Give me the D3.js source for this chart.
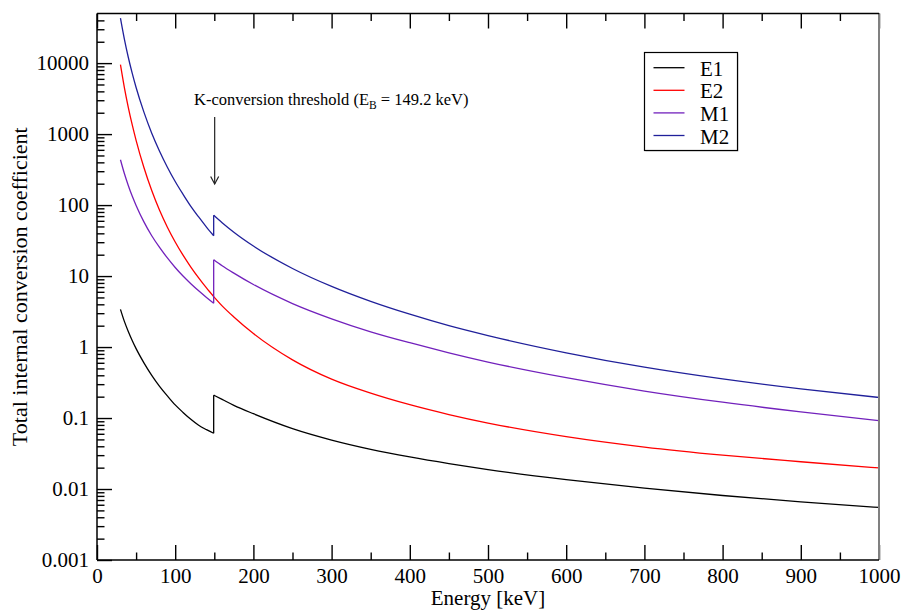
<!DOCTYPE html>
<html>
<head>
<meta charset="utf-8">
<script src="https://cdn.jsdelivr.net/npm/d3@7"></script>
<style>
  html, body { margin: 0; padding: 0; background: #fff; }
  svg { display: block; font-family: "Liberation Serif", "DejaVu Serif", serif; }
</style>
</head>
<body>
<svg id="chart" width="902" height="610"></svg>
<script>
// Total internal conversion coefficients vs. transition energy (keV).
// The K-shell channel opens at the binding energy, so each curve is drawn
// in two pieces: below and above the threshold.
const kEdge = 149.2;

const energyBelow = [30, 35, 40, 45, 50, 60, 70, 80, 90, 100, 110, 120, 130, 140, 149.2];
const energyAbove = [149.2, 160, 175, 200, 250, 300, 350, 400, 450, 500, 600, 700, 800, 900, 1000];

const e1Below = [3.4, 2.3, 1.66, 1.24, 0.95, 0.60, 0.40, 0.28, 0.205, 0.153, 0.120, 0.096, 0.079, 0.0685, 0.061];
const e1Above = [0.21, 0.183, 0.151, 0.115, 0.071, 0.049, 0.0363, 0.0283, 0.0228, 0.0188, 0.0136, 0.0103, 0.0081, 0.0066, 0.0055];

const e2Below = [9500, 4532, 2388, 1357, 818, 338, 160, 84.3, 48.8, 30.2, 19.7, 13.4, 9.43, 6.80, 5.14];
const e2Above = [5.14, 3.8, 2.65, 1.55, 0.66, 0.353, 0.224, 0.154, 0.112, 0.085, 0.0547, 0.039, 0.030, 0.0242, 0.0198];

const m1Below = [435, 278, 189, 134, 99, 58, 37, 25.3, 18, 13.2, 10.0, 7.8, 6.2, 5.0, 4.15];
const m1Above = [17, 14.0, 11.0, 7.6, 4.1, 2.5, 1.64, 1.15, 0.83, 0.615, 0.37, 0.24, 0.167, 0.122, 0.092];

const m2Below = [43000, 21800, 12100, 7230, 4540, 2040, 1030, 574, 342, 215, 142, 96, 68, 49, 37];
const m2Above = [72, 56.5, 41.5, 26.5, 12.8, 7.15, 4.4, 2.9, 2.0, 1.45, 0.83, 0.52, 0.355, 0.257, 0.195];

const seriesNames = ["E1", "E2", "M1", "M2"];
const seriesColors = ["#000000", "#ff0000", "#7221bc", "#20209a"];
const seriesBelow = [e1Below, e2Below, m1Below, m2Below];
const seriesAbove = [e1Above, e2Above, m1Above, m2Above];

const xMajorTicks = [0, 100, 200, 300, 400, 500, 600, 700, 800, 900, 1000];
const xMinorTicks = [50, 150, 250, 350, 450, 550, 650, 750, 850, 950];
const yMajorTicks = [0.001, 0.01, 0.1, 1, 10, 100, 1000, 10000];
const yTickLabels = ["0.001", "0.01", "0.1", "1", "10", "100", "1000", "10000"];

const plot = { left: 97, right: 879, top: 13.5, bottom: 560 };

const svg = d3.select("#chart");

const x = d3.scaleLinear().domain([0, 1000]).range([plot.left, plot.right]);
const y = d3.scaleLog().domain([0.001, 50000]).range([plot.bottom, plot.top]);

// minor log ticks: 2..9 times each decade, inside the domain
const yMinorTicks = [];
for (let p = -3; p <= 4; p++) {
  for (let m = 2; m <= 9; m++) {
    const v = m * Math.pow(10, p);
    if (v < 50000) yMinorTicks.push(v);
  }
}

// curves
const line = d3.line()
  .x(d => x(d[0]))
  .y(d => y(d[1]))
  .curve(d3.curveMonotoneX);

const curves = svg.append("g").attr("fill", "none").attr("stroke-width", 1.3);
seriesNames.forEach((name, i) => {
  const below = energyBelow.map((e, j) => [e, seriesBelow[i][j]]);
  const above = energyAbove.map((e, j) => [e, seriesAbove[i][j]]);
  curves.append("path").attr("d", line(below)).attr("stroke", seriesColors[i]);
  curves.append("path").attr("d", line(above)).attr("stroke", seriesColors[i]);
  // jump at the K-shell threshold
  curves.append("line")
    .attr("x1", x(kEdge)).attr("x2", x(kEdge))
    .attr("y1", y(seriesBelow[i][seriesBelow[i].length - 1]))
    .attr("y2", y(seriesAbove[i][0]))
    .attr("stroke", seriesColors[i]);
});

// axes
function styleAxis(g) {
  g.select(".domain").remove();
  g.selectAll(".tick line").attr("stroke", "#000").attr("stroke-width", 1.4);
  g.selectAll(".tick text").attr("fill", "#000").style("font-size", "21px")
    .style("font-family", "Liberation Serif, serif");
}

svg.append("g")
  .attr("transform", `translate(0,${plot.bottom})`)
  .call(d3.axisBottom(x).tickValues(xMajorTicks).tickSize(-15).tickPadding(8).tickFormat(d3.format("d")))
  .call(styleAxis);
svg.append("g")
  .attr("transform", `translate(0,${plot.bottom})`)
  .call(d3.axisBottom(x).tickValues(xMinorTicks).tickSize(-7.5).tickFormat(""))
  .call(styleAxis);
svg.append("g")
  .attr("transform", `translate(0,${plot.top})`)
  .call(d3.axisTop(x).tickValues(xMajorTicks).tickSize(-15).tickFormat(""))
  .call(styleAxis);
svg.append("g")
  .attr("transform", `translate(0,${plot.top})`)
  .call(d3.axisTop(x).tickValues(xMinorTicks).tickSize(-7.5).tickFormat(""))
  .call(styleAxis);
svg.append("g")
  .attr("transform", `translate(${plot.left},0)`)
  .call(d3.axisLeft(y).tickValues(yMajorTicks).tickSize(-15).tickPadding(8)
    .tickFormat((d, i) => yTickLabels[i]))
  .call(styleAxis);
svg.append("g")
  .attr("transform", `translate(${plot.left},0)`)
  .call(d3.axisLeft(y).tickValues(yMinorTicks).tickSize(-7.5).tickFormat(""))
  .call(styleAxis);

// frame
svg.append("line").attr("x1", plot.right).attr("x2", plot.right)
  .attr("y1", plot.top).attr("y2", plot.bottom)
  .attr("stroke", "#808080").attr("stroke-width", 2);
svg.append("line").attr("x1", plot.left).attr("x2", plot.right)
  .attr("y1", plot.top).attr("y2", plot.top)
  .attr("stroke", "#000").attr("stroke-width", 1.5);
svg.append("line").attr("x1", plot.left).attr("x2", plot.right)
  .attr("y1", plot.bottom).attr("y2", plot.bottom)
  .attr("stroke", "#000").attr("stroke-width", 1.5);
svg.append("line").attr("x1", plot.left).attr("x2", plot.left)
  .attr("y1", plot.top).attr("y2", plot.bottom)
  .attr("stroke", "#000").attr("stroke-width", 1.5);

// axis titles
svg.append("text")
  .attr("x", (plot.left + plot.right) / 2).attr("y", 605)
  .attr("text-anchor", "middle").style("font-size", "21px")
  .text("Energy [keV]");
svg.append("text")
  .attr("transform", `translate(27,${(plot.top + plot.bottom) / 2}) rotate(-90)`)
  .attr("text-anchor", "middle").style("font-size", "22px")
  .text("Total internal conversion coefficient");

// threshold annotation
const note = svg.append("text")
  .attr("x", 194).attr("y", 105).style("font-size", "16.5px");
note.append("tspan").text("K-conversion threshold (E");
note.append("tspan").attr("dy", 4).style("font-size", "11.5px").text("B");
note.append("tspan").attr("dy", -4).text(" = 149.2 keV)");

const ax = x(kEdge) + 1;
svg.append("line").attr("x1", ax).attr("x2", ax).attr("y1", 117).attr("y2", 184)
  .attr("stroke", "#222").attr("stroke-width", 1.2);
svg.append("path")
  .attr("d", `M${ax - 4},${176.5} L${ax},${184} L${ax + 4},${176.5}`)
  .attr("fill", "none").attr("stroke", "#222").attr("stroke-width", 1.2);

// legend
const lg = { x: 644.5, y: 52.5, w: 93, h: 98 };
svg.append("rect").attr("x", lg.x + 1).attr("y", lg.y + 1).attr("width", lg.w).attr("height", lg.h)
  .attr("fill", "#d0d0d0");
svg.append("rect").attr("x", lg.x).attr("y", lg.y).attr("width", lg.w).attr("height", lg.h)
  .attr("fill", "#fff").attr("stroke", "#000").attr("stroke-width", 1.2);
seriesNames.forEach((name, i) => {
  const ly = 67.7 + i * 22.6;
  svg.append("line").attr("x1", 653.5).attr("x2", 684.5).attr("y1", ly).attr("y2", ly)
    .attr("stroke", seriesColors[i]).attr("stroke-width", 1.3);
  svg.append("text").attr("x", 700).attr("y", ly + 8).style("font-size", "21px").text(name);
});
</script>
</body>
</html>
